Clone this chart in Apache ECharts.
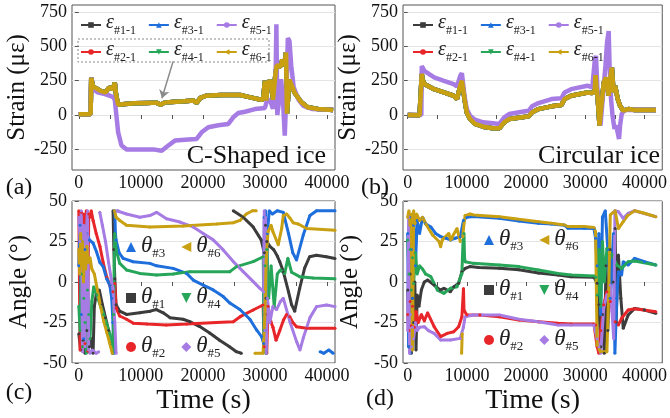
<!DOCTYPE html>
<html>
<head>
<meta charset="utf-8">
<script src="https://cdn.jsdelivr.net/npm/echarts@6/dist/echarts.min.js"></script>
</head>
<body style="margin:0">
<div id="main" style="width:670px;height:418px"></div>
<script>
// ---- data: [time (s), value] ----
const strainNames = ['ε#1-1', 'ε#2-1', 'ε#3-1', 'ε#4-1', 'ε#5-1', 'ε#6-1'];
const angleNames = ['θ#1', 'θ#2', 'θ#3', 'θ#4', 'θ#5', 'θ#6'];
const xTickLabels = [0, 10000, 20000, 30000, 40000];
const xTicks = [0, 5000, 10000, 15000, 20000, 25000, 30000, 35000, 40000];
const strainTicks = [-250, 0, 250, 500, 750];

// (a) C-shaped ice: #1-#4 and #6 lie on top of each other
const epsA_main = [[0,5],[1000,6],[1900,8],[2000,270],[2300,205],[2800,195],[3500,175],[4300,165],[4800,195],[5200,200],[5500,185],[5800,235],[6000,150],[6340,75],[7500,80],[9000,85],[11000,88],[12500,90],[13200,75],[13800,90],[15000,95],[17000,100],[18500,105],[19000,88],[19600,125],[20500,140],[23000,145],[26000,145],[27500,130],[29000,115],[29700,110],[30000,250],[30200,105],[30500,240],[31000,245],[31300,110],[31700,300],[31900,360],[32600,355],[32800,405],[33100,357],[33400,454],[33560,10],[33950,255],[34760,164],[35840,94],[36900,56],[38550,43],[41000,36]];
const epsA_5 = [[0,5],[1900,8],[2000,270],[2300,190],[3000,165],[4000,155],[5000,140],[5600,128],[5800,110],[6340,-126],[6880,-222],[7690,-250],[10000,-250],[12000,-250],[13360,-260],[14430,-222],[15500,-186],[17650,-178],[18990,-174],[19800,-126],[20880,-89],[22490,-75],[24100,-65],[24900,-17],[25710,14],[26780,24],[28400,43],[30000,51],[30300,100],[30800,110],[31300,45],[31700,200],[31850,660],[32000,0],[32300,110],[32600,260],[32900,120],[33200,-150],[33500,200],[33700,560],[33950,540],[34250,357],[34630,203],[35430,111],[36200,67],[37700,43],[41000,36]];

// (b) circular ice
const epsB_main = [[0,0],[2000,-2],[2300,0],[2370,300],[2500,260],[2800,225],[4460,188],[6110,164],[7770,140],[8320,116],[8870,213],[9150,249],[9590,116],[9970,19],[10520,-29],[11350,-65],[12730,-85],[14380,-97],[15480,-97],[16310,-53],[17130,-29],[19340,-17],[20440,-10],[20990,19],[22090,43],[24300,63],[25950,72],[26500,116],[27600,140],[30360,164],[31180,160],[31600,175],[31730,290],[31900,200],[32100,116],[32400,-77],[32600,20],[33120,237],[33510,273],[33950,140],[34210,261],[34490,345],[34770,164],[35040,212],[35480,116],[35870,67],[36420,31],[37250,43],[38350,36],[41930,36]];
const epsB_5 = [[0,0],[2300,0],[2370,357],[2800,321],[4460,273],[6110,249],[7770,225],[8320,208],[8870,285],[9150,304],[9590,140],[9970,43],[10520,-5],[11350,-34],[12730,-53],[14380,-60],[15480,-65],[16310,-17],[17130,7],[19340,24],[20440,31],[20990,63],[22090,87],[24300,116],[25950,121],[26500,164],[27600,188],[30360,213],[31180,200],[31620,406],[31800,430],[32100,140],[32560,-77],[33120,213],[33400,357],[33670,527],[33950,611],[34100,357],[34350,116],[34600,-5],[34930,-101],[35200,-77],[35480,-130],[35700,-174],[35870,-77],[36150,7],[36590,36],[38000,38],[41930,36]];

// (c) angles, C-shaped ice
const thC1 = [[0,-32],[300,-42],[700,-36],[1000,-44],[1300,-30],[1700,-40],[2000,-35],[2300,-44],[2500,-15],[2800,-8],[3300,-5],[3800,-14],[4300,-22],[4800,-30],[5200,-38],[5450,-44],[5480,'-'],[5520,44],[5650,20],[5800,2],[6000,-14],[6600,-18],[7700,-20],[9800,-19],[11500,-18],[12500,-17],[13600,-19],[14700,-22],[16800,-23],[17900,-24.5],[19500,-27.5],[21100,-31.5],[22700,-36],[24300,-40],[25400,-43],[26200,-44],[26300,'-'],[24900,44],[26500,40],[28100,34],[29400,26],[29900,18],[30000,-30],[30100,35],[30200,-10],[30300,25],[30800,22],[31400,20],[32000,16],[32400,12.5],[33000,6],[33800,-6],[34300,-14],[34800,-18],[35600,-4],[36400,8.6],[37200,15.6],[38300,16.5],[39900,15.6],[41300,14.5]];
const thC2 = [[0,44],[200,-42],[400,43],[600,-40],[800,42],[1000,-38],[1200,44],[1400,-43],[1600,42],[1800,40],[2000,44],[2300,38],[2800,30],[3400,22],[3900,12.5],[4500,3],[5000,-2],[5500,-6],[5800,-1],[6000,-16],[6600,-21],[7700,-23],[8800,-25.5],[11000,-26],[14100,-26.5],[17400,-26],[22200,-25],[24900,-24.5],[26000,-21.4],[28100,-17.3],[29700,-14.2],[29900,-40],[30100,-20],[30300,-44],[30500,-15],[31000,-25],[31300,-28],[31800,-36],[32400,-30],[33000,-23.5],[33500,-20],[34000,-21.4],[34500,-25],[35100,-27.6],[36700,-28.6],[41300,-28.6]];
const thC3 = [[0,10],[200,35],[400,-20],[600,25],[800,-35],[1000,20],[1300,30],[1700,26],[2300,24],[2850,18.7],[3400,12],[3920,9.5],[4500,2],[5000,-2],[5300,-10],[5500,-25],[5700,-44],[5750,'-'],[5800,44],[5900,30],[6000,26],[6500,18],[7150,14.6],[8760,12.5],[11450,11.5],[12530,10],[15200,8.4],[17370,5.3],[18440,1.2],[20050,-1.9],[21670,-4.9],[23280,-9],[24350,-13],[25970,-17],[27580,-23],[28660,-29.6],[29460,-33.7],[29800,-38],[29900,40],[30000,-20],[30100,44],[30200,-44],[30400,30],[30700,44],[31200,42],[32000,44],[32960,43],[33800,30],[34500,18],[35100,13.6],[36180,29],[37260,41],[38330,44],[41300,44],[41300,'-'],[38900,-43],[39500,-44],[40300,-42],[41000,-44]];
const thC4 = [[0,-15],[200,-30],[400,5],[600,-40],[800,-10],[1000,-25],[1200,-44],[1400,-5],[1600,-20],[1800,-35],[2100,-12],[2400,-3],[2900,-8],[3500,-15],[4000,-20],[4500,-26],[5000,-32],[5300,-38],[5500,-44],[5600,-20],[5700,10],[5800,30],[6000,20],[6600,11.5],[7700,7.4],[9840,5.3],[12530,4.3],[15200,5],[17900,6.4],[24350,6.4],[25430,9.5],[28120,12.6],[29730,15.6],[29850,-30],[30000,10],[30150,-44],[30300,20],[30600,-10],[31000,10],[31500,-15],[32000,5],[32500,7.4],[33200,5.3],[33700,14.6],[34300,6],[35600,3.3],[37800,2.5],[41300,2]];
const thC5 = [[0,40],[200,25],[400,44],[600,-43],[800,35],[1000,-40],[1200,30],[1400,44],[1600,-42],[1800,-44],[2200,-42],[2800,-44],[3200,-43],[3300,'-'],[3380,43],[3800,35],[4300,25],[4800,12],[5300,0],[5500,-4],[5800,-25],[6000,-44],[6050,'-'],[6100,44],[6340,44],[7690,42],[9840,40],[11450,41],[12530,43],[14140,39],[16290,37],[18440,34],[20050,30],[21670,26],[23280,19.8],[24900,12.6],[26500,6.4],[28120,0.2],[29190,-3.9],[29800,-6],[29900,44],[30000,-30],[30100,40],[30200,-44],[30400,-10],[30800,-25],[31300,-15],[31880,-17],[32500,-12],[32960,-10],[34030,-24.5],[35110,-36.8],[35650,-42],[36180,-34.6],[37260,-22],[38330,-15.2],[39940,-14.2],[41300,-15.2]];
const thC6 = [[0,20],[150,5],[300,30],[450,10],[600,25],[750,0],[900,18],[1100,8],[1300,22],[1500,12],[1800,15],[2100,8],[2500,5],[3000,-5],[3500,-15],[4000,-24],[4500,-31],[5000,-38],[5400,-44],[5450,'-'],[5750,44],[6000,40],[6600,38],[7700,35],[11450,34],[16830,34.6],[22200,35.8],[24900,36.6],[25970,38],[27000,42],[28000,44],[28600,44],[28700,'-'],[28400,-44],[29700,-44],[30000,-20],[30200,12.5],[30500,31],[31000,35],[31300,31],[32150,23],[32700,33],[32960,41],[33500,42],[34030,39.5],[34570,36.5],[35380,35.8],[36720,33],[41300,32]];

// (d) angles, circular ice
const thD1 = [[0,-5],[200,-40],[400,5],[600,-44],[800,-10],[1000,-25],[1200,0],[1400,-42],[1600,-8],[1900,-15],[2300,-5],[2800,0],[3360,1.2],[4460,-1.9],[5500,-5],[6120,-3.9],[7200,-6],[7770,-3],[8600,-0.8],[9150,6.4],[9700,8.4],[10500,9.5],[12000,9],[15480,8.5],[18790,7.5],[22090,5.5],[25400,4.3],[27600,3.3],[31460,3],[32000,-0.8],[32300,-14],[32600,-40],[32900,-20],[33200,-44],[33500,10],[33800,-30],[34200,20],[34700,0],[35040,33],[35200,-24.7],[35590,16.7],[36000,-10],[36410,-28.6],[37240,-20.4],[38340,-16.3],[39990,-17.3],[41920,-19.3]];
const thD2 = [[0,-20],[200,-30],[400,-12],[600,-27],[800,-15],[1100,-28],[1400,-18],[1800,-25],[2300,-20],[2800,-24],[3360,-19],[4460,-27.6],[5560,-33.7],[6670,-31.7],[7770,-30.7],[8600,-27.6],[9150,-21.4],[9420,-4],[9500,-17.3],[9970,-20.4],[12180,-20.4],[15480,-21.4],[18790,-23.5],[22090,-24.5],[25400,-25.5],[27600,-26],[31460,-26],[31730,-26.5],[32000,-40],[32300,-44],[32600,-30],[33110,-14],[33650,-6],[34220,-12],[35040,-24.5],[35590,-26.5],[36130,-22.4],[37240,-17.3],[38340,-16.5],[41920,-18.3]];
const thD3 = [[0,30],[150,-40],[300,40],[450,-44],[600,20],[800,-10],[1000,35],[1300,10],[1600,38],[2000,30],[2500,40],[3000,36],[3900,34],[4700,30],[5560,28],[6500,27],[7220,26],[8000,27],[8870,28],[9420,38],[9970,40],[11070,40.5],[15480,39.3],[18790,37.7],[22090,36.2],[24300,35.8],[26500,35],[27050,33.2],[29810,33.2],[31460,33],[31730,27],[32000,10],[32300,30],[32600,-20],[32900,40],[33370,44],[33800,20],[34200,-10],[34760,30],[35000,-44],[35320,-10],[35590,6.4],[36130,4.3],[36410,12.5],[37240,10.5],[38340,14.6],[39990,12.5],[41920,10.5]];
const thD4 = [[0,26],[200,5],[400,20],[600,-5],[800,15],[1000,-1],[1300,18],[1600,5],[2000,10],[2500,8],[3000,5],[3900,3.3],[5010,-5],[6120,-7],[7220,-3.9],[8320,-2.9],[9150,5.3],[9350,26],[9500,30],[9600,15],[9700,12.5],[11070,11.5],[15480,10.5],[18790,9.5],[22090,7.4],[25400,5.3],[27600,4.3],[31460,3.7],[31800,3],[32010,-8],[32300,20],[32600,-15],[32900,25],[33200,0],[33650,20.8],[34500,16.7],[35320,10.5],[36130,8.4],[37240,12.5],[38340,13],[41920,10.5]];
const thD5 = [[0,-30],[150,40],[300,-44],[450,-20],[600,-40],[800,-28],[1000,-35],[1300,-25],[1600,-30],[2000,-28],[2800,-27.6],[3500,-30],[4460,-31.7],[5560,-35.8],[7220,-35.8],[8870,-34.8],[9400,-28],[9700,-21.4],[11070,-20.4],[15480,-20.4],[18790,-23],[22090,-24.5],[25400,-26.5],[27600,-26.5],[31460,-26.5],[32000,-35],[32300,-40],[32600,-44],[33110,-16],[33650,-8],[34220,-2],[34500,-18],[34800,-35],[35000,44],[35590,43.4],[36410,39.3],[37240,42.4],[38340,44],[41920,40.3]];
const thD6 = [[0,40],[200,44],[400,35],[600,42],[800,-42],[1000,44],[1200,36],[1500,42],[2000,38],[2500,40],[3080,35.7],[4190,29],[5290,25],[5560,21.8],[5840,26],[6940,30],[7220,26],[7490,26.9],[8320,33],[8870,25],[9000,'-'],[9100,-44],[9200,-32],[9250,'-'],[9300,28],[9420,33],[9690,41],[10520,42],[11070,41.4],[15480,40.3],[18790,38.7],[22090,37.2],[24300,36.2],[26500,35.2],[27050,34.2],[29810,34.2],[31460,33.7],[31730,31],[32000,-39],[32560,-43],[33650,-43],[33940,-8],[34220,41.4],[35040,44],[35590,33],[36410,37.3],[37240,41.4],[38340,44],[39990,42.4],[41920,40.3]];

const colors = ['#3c3c3c', '#e8262a', '#1e6fdc', '#27a65a', '#a67ce4', '#c9a012'];
const symbols = ['rect', 'circle', 'triangle', 'path://M0,0 L10,0 L5,10 Z', 'circle', 'path://M0,5 L10,0 L10,10 Z'];
const angleIcons = ['rect', 'circle', 'triangle', 'path://M0,0 L10,0 L5,10 Z', 'diamond', 'path://M0,5 L10,0 L10,10 Z'];

const FONT = 'Liberation Serif';

const grids = [
  { left: 72, top: 5, width: 263, height: 165 },
  { left: 403, top: 5, width: 265, height: 165 },
  { left: 72, top: 201, width: 263, height: 162 },
  { left: 403, top: 201, width: 265, height: 162 }
].map(g => Object.assign({ show: true, borderColor: '#555', borderWidth: 1, backgroundColor: 'transparent' }, g));

const xRanges = [[-1100, 41300], [-800, 43000], [-1100, 41300], [-800, 43000]];
const xAxis = xRanges.map((r, i) => ({
  type: 'value', gridIndex: i, min: r[0], max: r[1],
  name: i >= 2 ? 'Time (s)' : '', nameLocation: 'middle', nameGap: 24,
  nameTextStyle: { fontFamily: FONT, fontSize: 28, color: '#111' },
  axisLine: { show: false },
  axisTick: { show: true, inside: false, length: 4, customValues: xTicks, lineStyle: { color: '#555' } },
  axisLabel: { customValues: xTickLabels, formatter: v => String(v), fontFamily: FONT, fontSize: 18, color: '#111', margin: 4 },
  splitLine: { show: false }
}));

const yAxis = [0, 1, 2, 3].map(i => {
  const strain = i < 2;
  return {
    type: 'value', gridIndex: i,
    min: strain ? -400 : -50, max: strain ? 800 : 50,
    interval: strain ? undefined : 25,
    name: strain ? 'Strain (με)' : 'Angle (°)',
    nameLocation: 'middle', nameGap: i === 1 ? 36 : 40,
    nameTextStyle: { fontFamily: FONT, fontSize: 25, color: '#111' },
    axisLine: { show: false },
    axisTick: strain ? { show: true, length: 4, customValues: strainTicks, lineStyle: { color: '#555' } }
                     : { show: true, length: 4, lineStyle: { color: '#555' } },
    axisLabel: strain ? { customValues: strainTicks, formatter: v => String(v), fontFamily: FONT, fontSize: 18, color: '#111', margin: 5 }
                      : { formatter: v => String(v), fontFamily: FONT, fontSize: 18, color: '#111', margin: 5 },
    splitLine: { show: true, lineStyle: { color: '#e4e4e4', width: 1 } }
  };
});

const series = [];
const strainData = [
  [epsA_main, epsA_main, epsA_main, epsA_main, epsA_5, epsA_main],
  [epsB_main, epsB_main, epsB_main, epsB_main, epsB_5, epsB_main]
];
strainData.forEach((set, g) => {
  set.forEach((d, k) => {
    const s = {
      type: 'line', name: strainNames[k], xAxisIndex: g, yAxisIndex: g,
      data: d, symbol: symbols[k], symbolSize: 6, showSymbol: false,
      lineStyle: { color: colors[k], width: 4.5 }, itemStyle: { color: colors[k] },
      silent: true
    };
    if (g === 0 && k === 5) {
      s.markLine = {
        silent: true, symbol: ['none', 'arrow'], symbolSize: 8,
        label: { show: false },
        lineStyle: { color: '#8a8a8a', width: 1.5, type: 'solid' },
        data: [[{ coord: [15200, 390] }, { coord: [13400, 122] }]]
      };
    }
    series.push(s);
  });
});

const angleData = [
  [thC1, thC2, thC3, thC4, thC5, thC6],
  [thD1, thD2, thD3, thD4, thD5, thD6]
];
angleData.forEach((set, g) => {
  set.forEach((d, k) => {
    series.push({
      type: 'line', name: angleNames[k], xAxisIndex: g + 2, yAxisIndex: g + 2,
      data: d, showSymbol: true, symbol: 'circle', symbolSize: 3,
      lineStyle: { color: colors[k], width: 3 }, itemStyle: { color: colors[k] },
      silent: true
    });
  });
});

const epsText = {
  fontFamily: FONT, color: '#222',
  rich: {
    e: { fontFamily: FONT, fontSize: 20, fontStyle: 'italic', lineHeight: 24, verticalAlign: 'top', color: '#222' },
    s: { fontFamily: FONT, fontSize: 12, lineHeight: 12, verticalAlign: 'bottom', color: '#222' }
  }
};
const thText = {
  fontFamily: FONT, color: '#222',
  rich: {
    e: { fontFamily: FONT, fontSize: 23, fontStyle: 'italic', lineHeight: 26, verticalAlign: 'top', color: '#222' },
    s: { fontFamily: FONT, fontSize: 13, lineHeight: 13, verticalAlign: 'bottom', color: '#222' }
  }
};
const fmt = name => '{e|' + name.charAt(0) + '}{s|' + name.slice(1) + '}';

function strainLegend(left, top, idx) {
  return {
    left: left, top: top, orient: 'horizontal', itemGap: 12, itemWidth: 20, itemHeight: 7,
    selectedMode: false, padding: 0,
    data: idx.map(k => strainNames[k]), formatter: fmt, textStyle: epsText
  };
}
function angleLegend(left, top, idx) {
  return {
    left: left, top: top, orient: 'horizontal', itemGap: 16, itemWidth: 10, itemHeight: 10,
    selectedMode: false, padding: 0,
    data: idx.map(k => ({ name: angleNames[k], icon: angleIcons[k] })), formatter: fmt, textStyle: thText
  };
}

const legend = [
  strainLegend(80, 13, [0, 2, 4]),
  strainLegend(80, 40, [1, 3, 5]),
  strainLegend(412, 13, [0, 2, 4]),
  strainLegend(412, 40, [1, 3, 5]),
  angleLegend(126, 234, [2, 5]),
  angleLegend(126, 285, [0, 3]),
  angleLegend(126, 334, [1, 4]),
  angleLegend(484, 227, [2, 5]),
  angleLegend(484, 277, [0, 3]),
  angleLegend(484, 327, [1, 4])
];

const txt = (text, x, y, size, align) => ({
  type: 'text', silent: true, z: 100,
  style: {
    text: text, x: x, y: y, fontFamily: FONT, fontSize: size, fill: '#111',
    align: align, verticalAlign: 'middle', textAlign: align, textVerticalAlign: 'middle'
  }
});

const graphic = [
  { type: 'rect', silent: true, z: 100, shape: { x: 78, y: 39, width: 191, height: 23 },
    style: { fill: 'none', stroke: '#888', lineWidth: 1, lineDash: [2, 2] } },
  txt('C-Shaped ice', 326, 156, 26, 'right'),
  txt('Circular ice', 660, 156, 26, 'right'),
  txt('(a)', 19, 188, 24, 'center'),
  txt('(b)', 375, 188, 24, 'center'),
  txt('(c)', 19, 393, 24, 'center'),
  txt('(d)', 380, 399, 24, 'center')
];

const chart = echarts.init(document.getElementById('main'));
chart.setOption({
  animation: false,
  backgroundColor: '#fff',
  textStyle: { fontFamily: FONT },
  grid: grids,
  xAxis: xAxis,
  yAxis: yAxis,
  legend: legend,
  series: series,
  graphic: graphic
});
</script>
</body>
</html>
